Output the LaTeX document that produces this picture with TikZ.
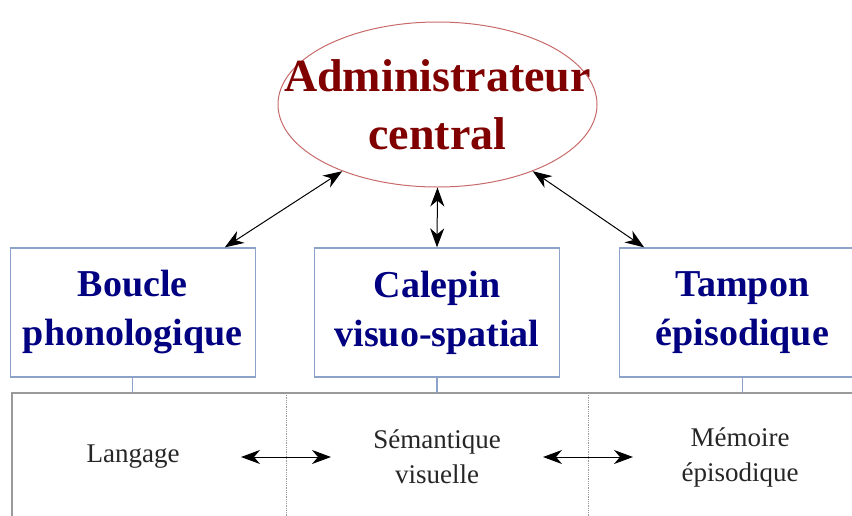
\documentclass[tikz,border=0pt]{standalone}
\usepackage{fontspec}
\setmainfont{Liberation Serif}
\usetikzlibrary{arrows.meta,calc,positioning,shapes.geometric}
\definecolor{adminred}{HTML}{800000}
\definecolor{adminline}{HTML}{C86A6A}
\definecolor{boxblue}{HTML}{000080}
\definecolor{boxline}{HTML}{8CA2C8}
\definecolor{frameline}{HTML}{9A9A9A}
\tikzset{
	admin/.style={ellipse,draw=adminline,line width=1pt,inner xsep=-45pt,inner ysep=0pt,
		minimum width=319pt,minimum height=165pt,text=adminred,
		font=\fontsize{46}{58}\selectfont\bfseries,align=center},
	comp/.style={draw=boxline,line width=1.3pt,inner sep=0pt,
		minimum width=245pt,minimum height=129pt,text=boxblue,
		font=\fontsize{38}{49}\selectfont\bfseries,align=center},
	role/.style={font=\fontsize{27}{35}\selectfont,align=center,text=black!85},
	dbl/.style={{Stealth[length=19pt,width=14pt,inset=6pt]}-{Stealth[length=19pt,width=14pt,inset=6pt]},line width=1pt},
	sep/.style={draw=frameline,densely dotted,line width=0.8pt},
	frm/.style={draw=frameline,line width=1.3pt}
}

\begin{document}
\begin{tikzpicture}[x=1pt,y=-1pt]
      \useasboundingbox (0,0) rectangle (852,515);
      \clip (0,0) rectangle (852,515);
      \node [admin] (admin) at (437.5,104.5) {Administrateur\\central};
      \node [comp] (calepin) at (437,312.5) {Calepin\\visuo-spatial};
      \node [comp, left=58pt of calepin] (boucle) {Boucle\\phonologique};
      \node [comp, right=59pt of calepin] (tampon) {Tampon\\épisodique};
      \coordinate (frame) at (12,393);
      \draw [frm] ($(frame)+(0,140)$) -- (frame) -- ($(frame)+(870,0)$);
      \draw [boxline, line width=1.3pt] (boucle.south) -- (boucle.south |- frame);
      \draw [boxline, line width=1.3pt] (calepin.south) -- (calepin.south |- frame);
      \draw [boxline, line width=1.3pt] (tampon.south) -- (tampon.south |- frame);
      \coordinate (sepA) at (286,393);
      \coordinate (sepB) at (588,393);
      \draw [sep] (sepA) -- ++(0,130);
      \draw [sep] (sepB) -- ++(0,130);
      \node [role] (langage) at (133,457) {Langage};
      \node [role] (semantique) at (437,457) {Sémantique\\visuelle};
      \node [role] (memoire) at (740,457) {Mémoire\\épisodique};
      \coordinate (la) at ($(sepA)+(-45,64)$);
      \coordinate (lb) at ($(sepA)+(45,64)$);
      \coordinate (ma) at ($(sepB)+(-45,64)$);
      \coordinate (mb) at ($(sepB)+(45,64)$);
      \draw [dbl] (la) -- (lb);
      \draw [dbl] (ma) -- (mb);
      \draw [dbl] (admin.215) -- ($(boucle.north east)+(-31,0)$);
      \draw [dbl] (admin.south) -- (calepin.north);
      \draw [dbl] (admin.-35) -- ($(tampon.north west)+(25,0)$);
   \end{tikzpicture}
\end{document}
